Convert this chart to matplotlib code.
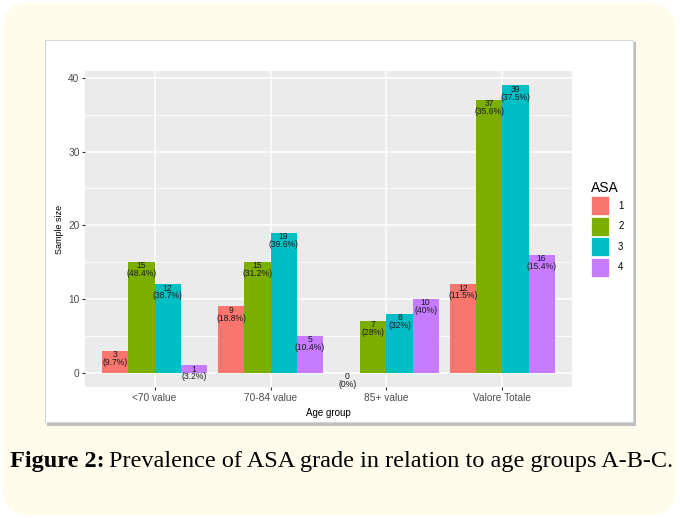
import numpy as np
import matplotlib
matplotlib.use('Agg')
import matplotlib.pyplot as plt
from matplotlib.patches import FancyBboxPatch, Rectangle, Patch

plt.rcParams['font.family'] = ['Liberation Sans', 'DejaVu Sans']

# ---------- data ----------
groups = ['<70 value', '70-84 value', '85+ value', 'Valore Totale']
asa_levels = ['1', '2', '3', '4']
counts = {
    '1': [3, 9, 0, 12],
    '2': [15, 15, 7, 37],
    '3': [12, 19, 8, 39],
    '4': [1, 5, 10, 16],
}
pcts = {
    '1': ['9.7%', '18.8%', '0%', '11.5%'],
    '2': ['48.4%', '31.2%', '28%', '35.6%'],
    '3': ['38.7%', '39.6%', '32%', '37.5%'],
    '4': ['3.2%', '10.4%', '40%', '15.4%'],
}
colors = ['#F8766D', '#7CAE00', '#00BFC4', '#C77CFF']
y_ticks = [0, 10, 20, 30, 40]

W, H = 680, 518
fig = plt.figure(figsize=(W / 100, H / 100), dpi=100)
fig.patch.set_facecolor('white')

# background in pixel coords
bg = fig.add_axes([0, 0, 1, 1])
bg.set_xlim(0, W); bg.set_ylim(H, 0); bg.axis('off')
bg.add_patch(FancyBboxPatch((3, 3), 673, 512, boxstyle='round,pad=0,rounding_size=26',
                            facecolor='#FFFCEB', edgecolor='none'))
bg.add_patch(Rectangle((47, 42), 589, 384, facecolor='#BDBDBD', edgecolor='none'))
bg.add_patch(Rectangle((45, 40), 588, 382, facecolor='white', edgecolor='#D6D6D6', lw=0.8))

# ---------- plot panel ----------
px0, px1, py0, py1 = 85, 572, 71, 387
ax = fig.add_axes([px0 / W, 1 - py1 / H, (px1 - px0) / W, (py1 - py0) / H])
ax.set_facecolor('#EBEBEB')
ymax = 39
ax.set_ylim(-0.05 * ymax, ymax * 1.05)
ax.set_xlim(0.4, len(groups) + 0.6)

ax.set_yticks(y_ticks)
ax.set_yticks([5, 15, 25, 35], minor=True)
ax.grid(which='major', color='white', lw=1.1)
ax.grid(which='minor', axis='y', color='white', lw=0.55)
ax.set_axisbelow(True)
for s in ax.spines.values():
    s.set_visible(False)

xc = np.arange(1, len(groups) + 1)
bw = 0.9 / len(asa_levels)
for i, lev in enumerate(asa_levels):
    xs = xc + (i - 1.5) * bw
    ax.bar(xs, counts[lev], width=bw, color=colors[i], zorder=2)
    for x, n, p in zip(xs, counts[lev], pcts[lev]):
        ax.text(x, n + 0.1, f'{n}\n({p})', ha='center', va='top', fontsize=6.2,
                color='#1A1A1A', linespacing=0.85, zorder=3)

ax.set_xticks(xc)
ax.set_xticklabels(groups)
ax.tick_params(axis='both', which='major', length=2.5, width=0.8, color='#333333',
               labelcolor='#4D4D4D', labelsize=7.3, pad=1.5)
ax.tick_params(axis='y', which='minor', length=0)
ax.set_xlabel('Age group', fontsize=7, labelpad=4, color='black')
ax.set_ylabel('Sample size', fontsize=6.5, labelpad=3, color='black')

handles = [Patch(facecolor=c, edgecolor='white', lw=0.5) for c in colors]
leg = ax.legend(handles, asa_levels, title='ASA', loc='upper left',
                bbox_to_anchor=(586 / W, 1 - 176 / H), bbox_transform=fig.transFigure,
                frameon=False, fontsize=7, title_fontsize=10, handlelength=1.9,
                handleheight=2.63, labelspacing=0.15, handletextpad=0.9,
                borderpad=0, alignment='left')

# ---------- caption ----------
cap_y = 1 - 462 / H
cap_x0, cap_x1 = 10, 677
fs = 15
t1 = fig.text(cap_x0 / W, cap_y, 'Figure 2:', fontsize=fs, fontweight='bold',
              family='Liberation Serif', va='center', ha='left')
t2 = fig.text(0, cap_y, 'Prevalence of ASA grade in relation to age groups A-B-C.',
              fontsize=fs, family='Liberation Serif', va='center', ha='left')
r = fig.canvas.get_renderer()
gap = 4
width = t1.get_window_extent(r).width + gap + t2.get_window_extent(r).width
fs = fs * (cap_x1 - cap_x0) / width
t1.set_fontsize(fs); t2.set_fontsize(fs)
bb = t1.get_window_extent(r)
t2.set_x((bb.x1 + gap) / W)

fig.savefig('out.png', dpi=100, facecolor='white')
